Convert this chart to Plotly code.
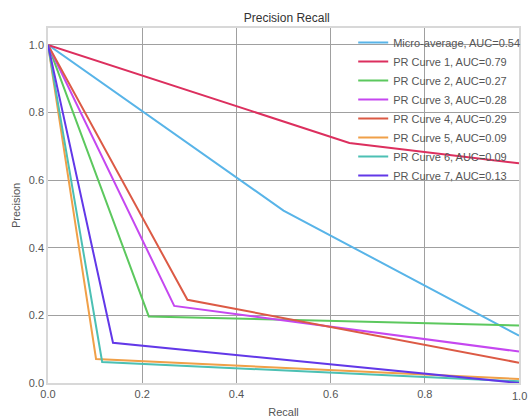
import plotly.graph_objects as go

names = ["Micro-average, AUC=0.54", "PR Curve 1, AUC=0.79", "PR Curve 2, AUC=0.27",
         "PR Curve 3, AUC=0.28", "PR Curve 4, AUC=0.29", "PR Curve 5, AUC=0.09",
         "PR Curve 6, AUC=0.09", "PR Curve 7, AUC=0.13"]
colors = ["#58b4e8", "#dc2f5e", "#5cc85e", "#c547f0", "#dc5a45", "#f0a048", "#4cc0b4", "#6238e8"]

recall_micro = [0.0, 0.5, 1.0]
precision_micro = [1.0, 0.51, 0.14]
recall_1 = [0.0, 0.64, 1.0]
precision_1 = [1.0, 0.71, 0.65]
recall_2 = [0.0, 0.214, 1.0]
precision_2 = [1.0, 0.197, 0.17]
recall_3 = [0.0, 0.268, 1.0]
precision_3 = [1.0, 0.228, 0.093]
recall_4 = [0.0, 0.296, 1.0]
precision_4 = [1.0, 0.246, 0.06]
recall_5 = [0.0, 0.102, 1.0]
precision_5 = [1.0, 0.071, 0.012]
recall_6 = [0.0, 0.115, 1.0]
precision_6 = [1.0, 0.062, 0.005]
recall_7 = [0.0, 0.138, 1.0]
precision_7 = [1.0, 0.119, 0.0]

x_ticks = [0.0, 0.2, 0.4, 0.6, 0.8, 1.0]
y_ticks = [0.0, 0.2, 0.4, 0.6, 0.8, 1.0]

recalls = [recall_micro, recall_1, recall_2, recall_3, recall_4, recall_5, recall_6, recall_7]
precisions = [precision_micro, precision_1, precision_2, precision_3, precision_4, precision_5, precision_6, precision_7]

fig = go.Figure()
for n, c, r, p in zip(names, colors, recalls, precisions):
    fig.add_trace(go.Scatter(x=r, y=p, mode="lines", name=n, line=dict(color=c, width=2)))

axis_common = dict(showgrid=True, gridcolor="#a0a0a0", gridwidth=1.2, zeroline=False,
                   showline=True, linecolor="#d8d8d8", linewidth=1.5, mirror=True,
                   ticks="", tickfont=dict(size=11, color="#555555"),
                   tickformat=".1f", automargin=False)

fig.update_layout(
    width=531, height=418,
    margin=dict(l=48, r=6, t=28, b=35),
    paper_bgcolor="white", plot_bgcolor="white",
    font=dict(family="Liberation Sans, Arial, sans-serif", color="#444444"),
    title=dict(text="Precision Recall", x=0.54, xanchor="center", y=0.958, yanchor="middle",
               font=dict(size=12, color="#333333")),
    xaxis=dict(range=[0, 1.0], tickvals=x_ticks[:-1],
               title=dict(text="Recall", font=dict(size=11, color="#555555"), standoff=9),
               **axis_common),
    yaxis=dict(range=[0, 1.05], tickvals=y_ticks,
               title=dict(text="Precision", font=dict(size=11, color="#555555"), standoff=6),
               **axis_common),
    legend=dict(x=0.648, y=1.0, xanchor="left", yanchor="top", bgcolor="rgba(0,0,0,0)",
                font=dict(size=11, color="#555555"), itemwidth=30, tracegroupgap=0),
)

# the right-most x tick label, partly cut off by the page edge as in the reference
fig.add_annotation(x=x_ticks[-1], y=0, xref="x", yref="y", text=f"{x_ticks[-1]:.1f}", showarrow=False,
                   yshift=-13, xanchor="center", yanchor="middle",
                   font=dict(size=11, color="#555555"))

fig.write_html("out.html")
